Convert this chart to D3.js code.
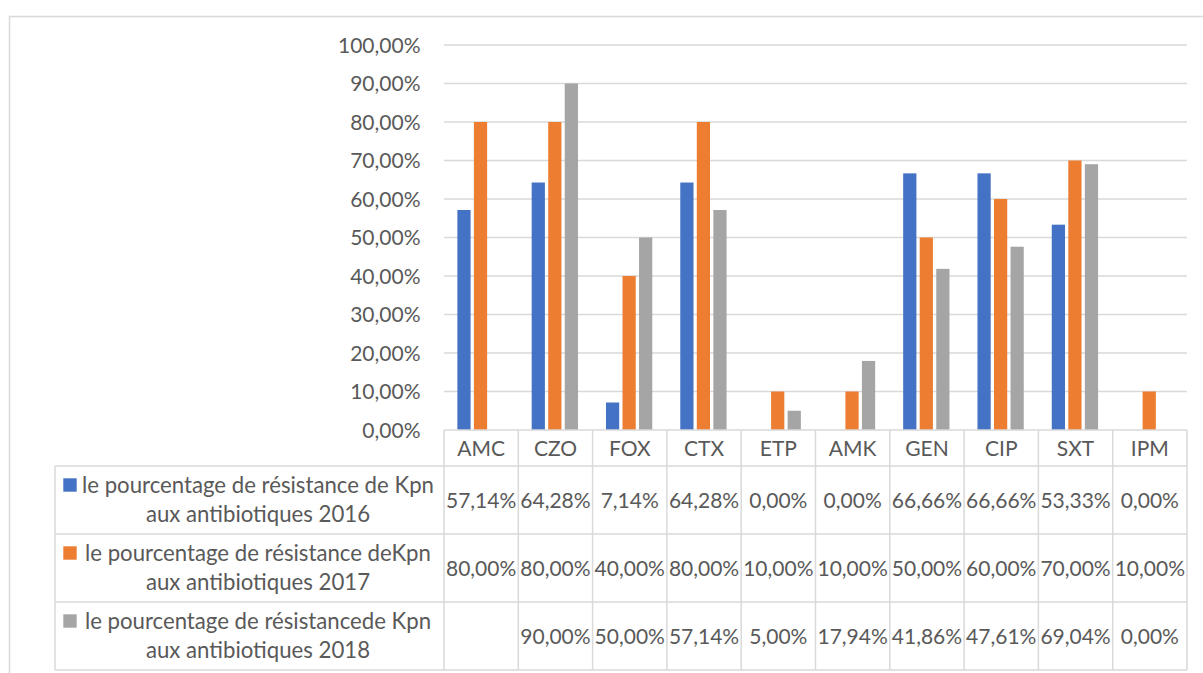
<!DOCTYPE html>
<html>
<head>
<meta charset="utf-8">
<script src="https://cdn.jsdelivr.net/npm/d3@7"></script>
<style>
  html, body { margin: 0; padding: 0; background: #fff; }
  svg { display: block; font-family: Lato, "Open Sans", sans-serif; }
</style>
</head>
<body>
<svg id="chart" width="1203" height="673"></svg>
<script>
// Antibiotic codes (categories)
const antibiotics = ["AMC", "CZO", "FOX", "CTX", "ETP", "AMK", "GEN", "CIP", "SXT", "IPM"];

// Series names (line 1, line 2 of the data-table legend)
const seriesNames = [
  ["le pourcentage de résistance de Kpn", "aux antibiotiques 2016"],
  ["le pourcentage de résistance deKpn", "aux antibiotiques 2017"],
  ["le pourcentage de résistancede Kpn", "aux antibiotiques 2018"]
];

// Resistance percentages per year (null = no data)
const resist2016 = [57.14, 64.28, 7.14, 64.28, 0.00, 0.00, 66.66, 66.66, 53.33, 0.00];
const resist2017 = [80.00, 80.00, 40.00, 80.00, 10.00, 10.00, 50.00, 60.00, 70.00, 10.00];
const resist2018 = [null, 90.00, 50.00, 57.14, 5.00, 17.94, 41.86, 47.61, 69.04, 0.00];

// Y axis ticks
const yTicks = [0, 10, 20, 30, 40, 50, 60, 70, 80, 90, 100];

const seriesColors = ["#4472C4", "#ED7D31", "#A5A5A5"];
const series = [resist2016, resist2017, resist2018];

const textColor = "#595959";
const lineColor = "#D9D9D9";
const fontSize = 21;
const legendFontSize = 22.2;

const svg = d3.select("#chart");

const plot = { left: 444, right: 1187, top: 45, bottom: 430 };

const x = d3.scaleBand().domain(antibiotics).range([plot.left, plot.right]).padding(0);
const y = d3.scaleLinear().domain([0, 100]).range([plot.bottom, plot.top]);

const catW = x.bandwidth();
const xInner = d3.scaleBand()
  .domain(d3.range(series.length))
  .range([catW * 0.18, catW * 0.803])
  .paddingInner(0.2);

const fmt = v => v == null ? "" : d3.format(".2f")(v).replace(".", ",") + "%";

// Outer chart border
svg.append("path")
  .attr("d", "M9.5,673 V16.5 H1203")
  .attr("fill", "none")
  .attr("stroke", lineColor)
  .attr("stroke-width", 1.5);

// Gridlines
svg.append("g")
  .selectAll("line")
  .data(yTicks.filter(t => t > 0))
  .join("line")
  .attr("x1", plot.left).attr("x2", plot.right)
  .attr("y1", d => y(d)).attr("y2", d => y(d))
  .attr("stroke", lineColor)
  .attr("stroke-width", 1.5);

// Y axis labels
svg.append("g")
  .selectAll("text")
  .data(yTicks)
  .join("text")
  .attr("x", 420.5)
  .attr("y", d => y(d))
  .attr("dy", "0.36em")
  .attr("text-anchor", "end")
  .attr("fill", textColor)
  .attr("font-size", fontSize)
  .text(d => fmt(d));

// Bars
const groups = svg.append("g")
  .selectAll("g")
  .data(series)
  .join("g")
  .attr("fill", (d, i) => seriesColors[i]);

groups.each(function(vals, si) {
  d3.select(this).selectAll("rect")
    .data(vals.map((v, i) => ({ cat: antibiotics[i], v })).filter(d => d.v != null && d.v > 0))
    .join("rect")
    .attr("x", d => x(d.cat) + xInner(si))
    .attr("width", xInner.bandwidth())
    .attr("y", d => y(d.v))
    .attr("height", d => y(0) - y(d.v));
});

// Data table
const headerBottom = 466;
const rowH = 68;
const rowTops = series.map((s, i) => headerBottom + i * rowH);
const tableBottom = headerBottom + series.length * rowH;
const legendLeft = 55;

const table = svg.append("g")
  .attr("stroke", lineColor)
  .attr("stroke-width", 1.5);

// Axis / header top line
table.append("line")
  .attr("x1", plot.left).attr("x2", plot.right)
  .attr("y1", plot.bottom).attr("y2", plot.bottom);

// Horizontal row lines
table.selectAll("line.row")
  .data([headerBottom, ...rowTops.slice(1), tableBottom])
  .join("line")
  .attr("class", "row")
  .attr("x1", legendLeft).attr("x2", plot.right)
  .attr("y1", d => d).attr("y2", d => d);

// Vertical column lines
table.selectAll("line.col")
  .data([...antibiotics.map(a => x(a)), plot.right])
  .join("line")
  .attr("class", "col")
  .attr("x1", d => d).attr("x2", d => d)
  .attr("y1", plot.bottom).attr("y2", tableBottom);

table.append("line")
  .attr("x1", legendLeft).attr("x2", legendLeft)
  .attr("y1", headerBottom).attr("y2", tableBottom);

// Header labels
svg.append("g")
  .selectAll("text")
  .data(antibiotics)
  .join("text")
  .attr("x", d => x(d) + catW / 2)
  .attr("y", (plot.bottom + headerBottom) / 2)
  .attr("dy", "0.36em")
  .attr("text-anchor", "middle")
  .attr("fill", textColor)
  .attr("font-size", fontSize)
  .text(d => d);

// Value cells
series.forEach((vals, si) => {
  svg.append("g")
    .selectAll("text")
    .data(vals)
    .join("text")
    .attr("x", (d, i) => x(antibiotics[i]) + catW / 2)
    .attr("y", rowTops[si] + rowH / 2)
    .attr("dy", "0.36em")
    .attr("text-anchor", "middle")
    .attr("fill", textColor)
    .attr("font-size", fontSize)
    .text(d => fmt(d));
});

// Legend cells
seriesNames.forEach((lines, si) => {
  const top = rowTops[si];
  svg.append("rect")
    .attr("x", 63.3)
    .attr("y", top + 12.3)
    .attr("width", 13.4)
    .attr("height", 13.4)
    .attr("fill", seriesColors[si]);
  const t = svg.append("text")
    .attr("text-anchor", "middle")
    .attr("fill", textColor)
    .attr("font-size", legendFontSize);
  lines.forEach((ln, li) => {
    t.append("tspan")
      .attr("x", 258)
      .attr("y", top + 26.5 + li * 29.3)
      .text(ln);
  });
});
</script>
</body>
</html>
